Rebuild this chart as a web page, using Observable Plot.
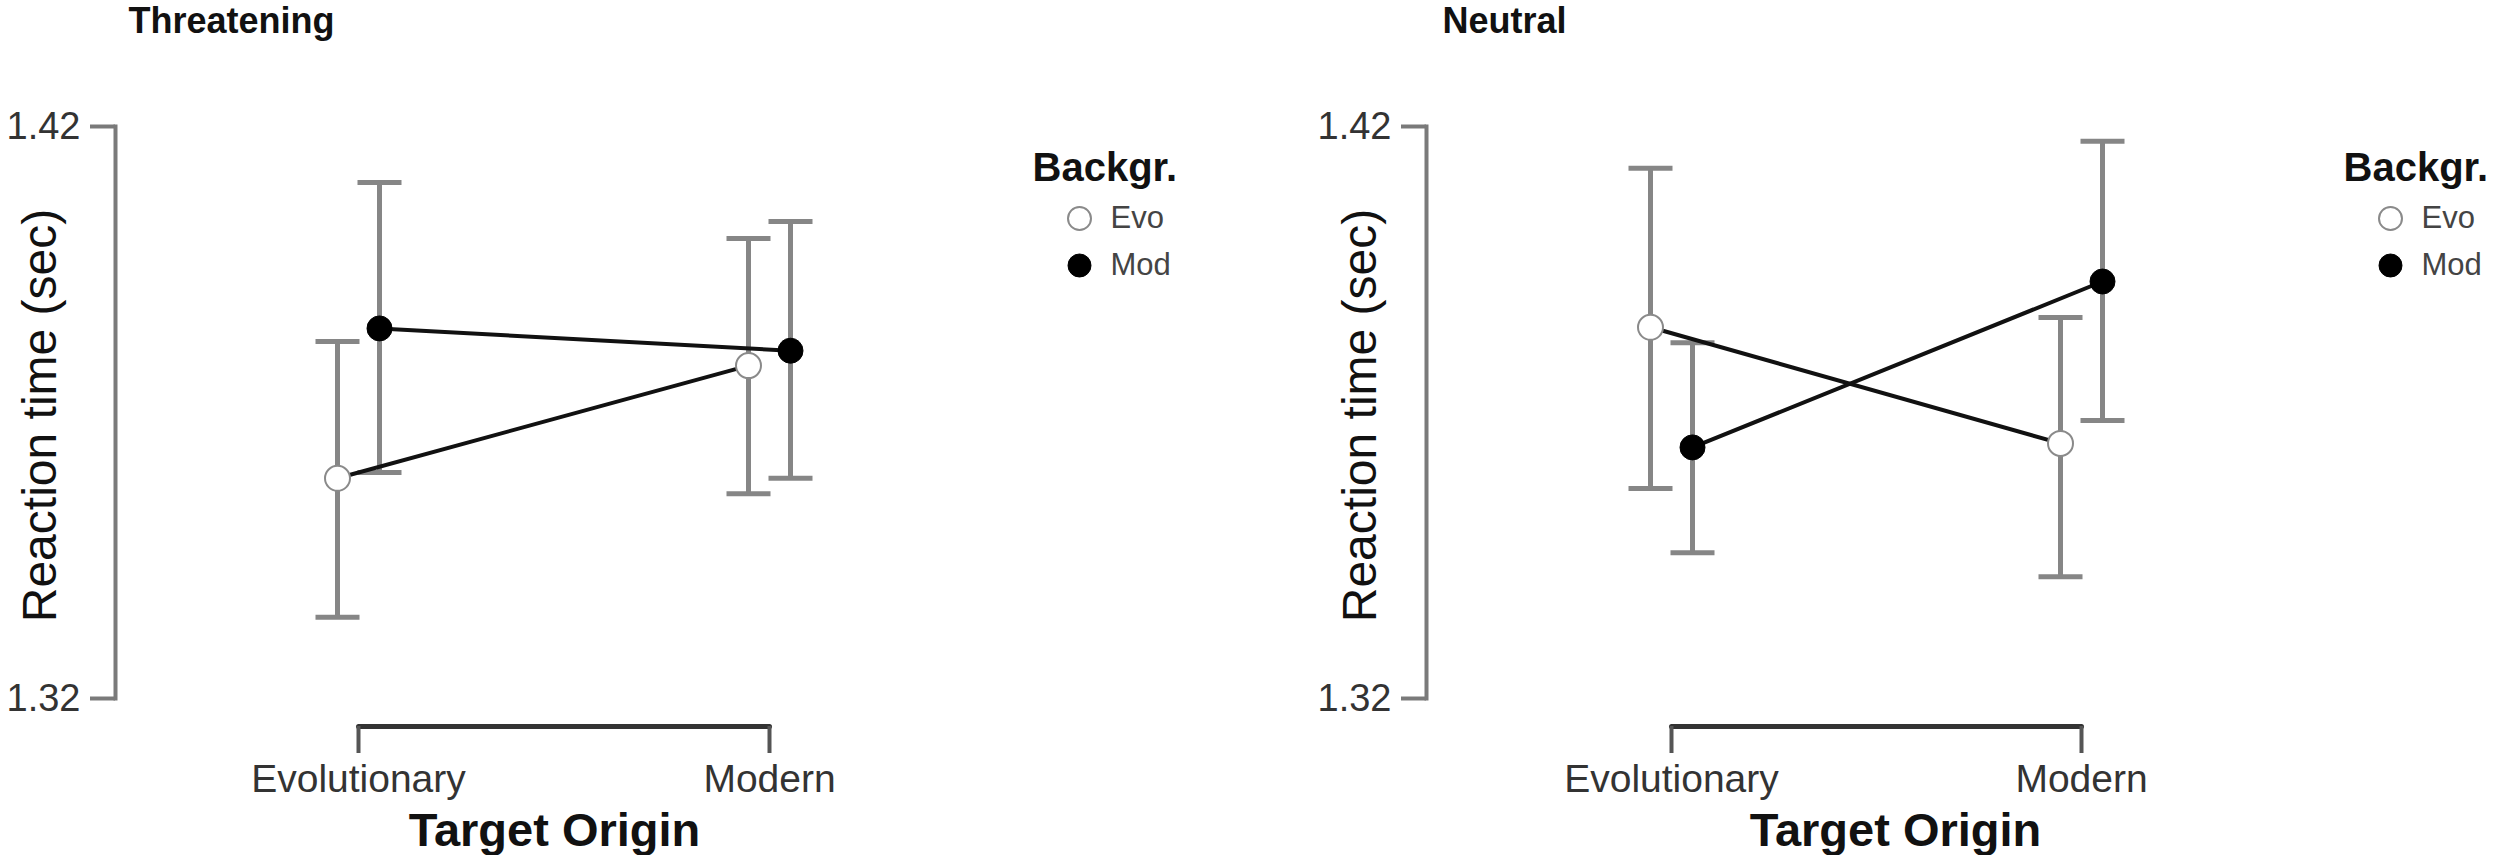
<!DOCTYPE html>
<html>
<head>
<meta charset="utf-8">
<script src="https://cdn.jsdelivr.net/npm/d3@7"></script>
<script src="https://cdn.jsdelivr.net/npm/@observablehq/plot@0.6"></script>
<style>
  html, body { margin: 0; padding: 0; background: #fff; }
  #wrap { display: flex; width: 2500px; height: 855px; overflow: hidden; background: #fff; }
  #wrap > svg { flex: none; }
</style>
</head>
<body>
<div id="wrap"></div>
<script>
// ---------- data ----------
const categories = ["Evolutionary", "Modern"];
const series = ["Evo", "Mod"];
const panelTitles = ["Threatening", "Neutral"];
const yTicks = [1.32, 1.42];

// Threatening panel
const threatEvoMean = [1.3585, 1.3782];
const threatEvoLow  = [1.3342, 1.3558];
const threatEvoHigh = [1.3824, 1.4004];
const threatModMean = [1.3847, 1.3808];
const threatModLow  = [1.3595, 1.3585];
const threatModHigh = [1.4102, 1.4034];

// Neutral panel
const neutralEvoMean = [1.3849, 1.3646];
const neutralEvoLow  = [1.3567, 1.3413];
const neutralEvoHigh = [1.4127, 1.3866];
const neutralModMean = [1.3639, 1.3929];
const neutralModLow  = [1.3455, 1.3686];
const neutralModHigh = [1.3822, 1.4174];

function buildRows(evo, mod) {
  const rows = [];
  [evo, mod].forEach((s, si) => {
    categories.forEach((c, ci) => {
      rows.push({origin: c, bg: series[si], mean: s.mean[ci], lo: s.low[ci], hi: s.high[ci]});
    });
  });
  return rows;
}

const panelData = [
  buildRows({mean: threatEvoMean, low: threatEvoLow, high: threatEvoHigh},
            {mean: threatModMean, low: threatModLow, high: threatModHigh}),
  buildRows({mean: neutralEvoMean, low: neutralEvoLow, high: neutralEvoHigh},
            {mean: neutralModMean, low: neutralModLow, high: neutralModHigh})
];

// ---------- layout (per panel) ----------
const layouts = [
  {axis: 115, cats: [358, 769], titleDx: 13, yLabelDx: -75, xTitleDx: 439},
  {axis: 176, cats: [421, 831], titleDx: 16, yLabelDx: -66, xTitleDx: 469}
];

const capSymbol = {
  draw(ctx, size) {
    const w = Math.sqrt(size / Math.PI);
    ctx.moveTo(-w, 0);
    ctx.lineTo(w, 0);
  }
};

const FONT = "'Liberation Sans', Arial, Helvetica, sans-serif";
const dodge = {Evo: -21, Mod: 21};

function makePanel(pi) {
  const L = layouts[pi];
  const rows = panelData[pi];
  const marks = [];

  // y axis line (R style, spanning ticks)
  marks.push(Plot.frame({anchor: "left", stroke: "#7a7a7a", strokeWidth: 4}));
  marks.push(Plot.axisY(yTicks, {
    tickSize: 25, tickPadding: 10, fontSize: 38, stroke: "#7a7a7a", strokeWidth: 4,
    fill: "#333", tickFormat: d3.format(".2f"), label: null
  }));

  // x axis bracket
  marks.push(Plot.lineY(categories, {x: d => d, y: () => yTicks[0], dy: 28, stroke: "#333", strokeWidth: 5}));
  marks.push(Plot.axisX(categories, {
    tickSize: 27, tickPadding: 11, dy: 28, fontSize: 39, stroke: "#555", strokeWidth: 4,
    fill: "#333", label: null
  }));

  // error bars
  series.forEach(s => {
    const d = rows.filter(r => r.bg === s);
    const dx = dodge[s];
    marks.push(Plot.ruleX(d, {x: "origin", y1: "lo", y2: "hi", dx, stroke: "#868686", strokeWidth: 5}));
    marks.push(Plot.dot(d, {x: "origin", y: "lo", dx, symbol: capSymbol, r: 22, fill: "none", stroke: "#868686", strokeWidth: 5}));
    marks.push(Plot.dot(d, {x: "origin", y: "hi", dx, symbol: capSymbol, r: 22, fill: "none", stroke: "#868686", strokeWidth: 5}));
  });

  // lines
  series.forEach(s => {
    const d = rows.filter(r => r.bg === s);
    marks.push(Plot.line(d, {x: "origin", y: "mean", dx: dodge[s], stroke: "#111", strokeWidth: 4}));
  });

  // points
  series.forEach(s => {
    const d = rows.filter(r => r.bg === s);
    const evo = s === "Evo";
    marks.push(Plot.dot(d, {
      x: "origin", y: "mean", dx: dodge[s], r: 12.5,
      fill: evo ? "#fff" : "#000", stroke: evo ? "#8a8a8a" : "#000", strokeWidth: evo ? 2 : 1
    }));
  });

  // panel title
  marks.push(Plot.text([panelTitles[pi]], {
    frameAnchor: "top-left", dx: L.titleDx, dy: -105, text: d => d,
    fontSize: 36, fontWeight: "bold", textAnchor: "start", lineAnchor: "middle", fill: "#111"
  }));

  // y label
  marks.push(Plot.text(["Reaction time (sec)"], {
    frameAnchor: "left", dx: L.yLabelDx, dy: 3, rotate: -90, text: d => d,
    fontSize: 48, fill: "#111", textAnchor: "middle", lineAnchor: "middle"
  }));

  // x title
  marks.push(Plot.text(["Target Origin"], {
    frameAnchor: "top-left", dx: L.xTitleDx, dy: 704, text: d => d,
    fontSize: 47, fontWeight: "bold", fill: "#111", textAnchor: "middle", lineAnchor: "middle"
  }));

  // legend
  marks.push(Plot.text(["Backgr."], {
    frameAnchor: "top-left", dx: 917, dy: 42, text: d => d,
    fontSize: 40, fontWeight: "bold", fill: "#111", textAnchor: "start", lineAnchor: "middle"
  }));
  series.forEach((s, i) => {
    const evo = s === "Evo";
    marks.push(Plot.dot([s], {
      frameAnchor: "top-left", dx: 964, dy: 92 + 47 * i, r: 11.5,
      fill: evo ? "#fff" : "#000", stroke: evo ? "#8a8a8a" : "#000", strokeWidth: evo ? 2 : 1
    }));
    marks.push(Plot.text([s], {
      frameAnchor: "top-left", dx: 995, dy: 92 + 47 * i, text: d => d,
      fontSize: 31, fill: "#444", textAnchor: "start", lineAnchor: "middle"
    }));
  });

  return Plot.plot({
    width: 1250,
    height: 855,
    marginTop: 126,
    marginBottom: 157,
    marginLeft: L.axis,
    marginRight: 30,
    style: {fontFamily: FONT, background: "#fff", overflow: "visible"},
    x: {type: "point", domain: categories, range: L.cats, padding: 0, axis: null},
    y: {domain: [yTicks[0], yTicks[1]], axis: null},
    marks
  });
}

const wrap = document.getElementById("wrap");
wrap.appendChild(makePanel(0));
wrap.appendChild(makePanel(1));
</script>
</body>
</html>
